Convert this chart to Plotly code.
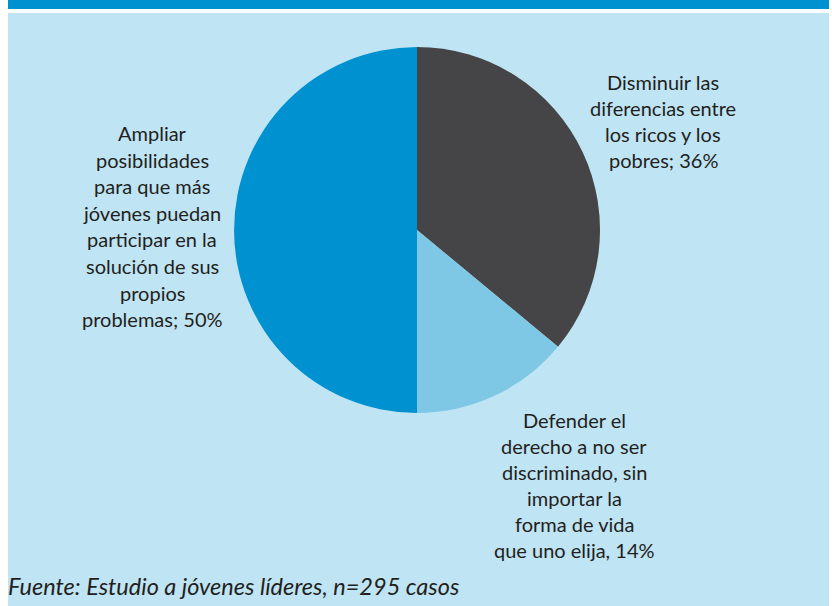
import plotly.graph_objects as go

# ---- data ----
categories = [
    "Disminuir las diferencias entre los ricos y los pobres",
    "Defender el derecho a no ser discriminado, sin importar la forma de vida que uno elija",
    "Ampliar posibilidades para que más jóvenes puedan participar en la solución de sus propios problemas",
]
values = [36, 14, 50]
label_lines = [
    ["Disminuir las", "diferencias entre", "los ricos y los", "pobres; 36%"],
    ["Defender el", "derecho a no ser", "discriminado, sin", "importar la", "forma de vida", "que uno elija, 14%"],
    ["Ampliar", "posibilidades", "para que más", "jóvenes puedan", "participar en la",
     "solución de sus", "propios", "problemas; 50%"],
]
colors = ["#454547", "#7EC8E6", "#0091D0"]
source_text = "Fuente: Estudio a jóvenes líderes, n=295 casos"

# ---- layout ----
W, H = 832, 606
BG = "#BFE4F4"
FONT = "Lato"
TXT = "#231F20"

def px(x):
    return x / W

def py(y):
    return 1 - y / H

cx, cy, r = 417, 230, 183

fig = go.Figure(go.Pie(
    labels=categories,
    values=values,
    sort=False,
    direction="clockwise",
    rotation=0,
    marker=dict(colors=colors, line=dict(width=0)),
    textinfo="none",
    hoverinfo="label+percent",
    showlegend=False,
    domain=dict(x=[px(cx - r), px(cx + r)], y=[py(cy + r), py(cy - r)]),
))

# label blocks: (center x, first line y, spacing)
label_pos = [(663, 82, 26), (574, 420, 26), (152, 133, 26.6)]

annotations = []
for lines, (lx, ly, sp) in zip(label_lines, label_pos):
    for i, t in enumerate(lines):
        annotations.append(dict(
            text=t, x=px(lx), y=py(ly + i * sp), xref="paper", yref="paper",
            xanchor="center", yanchor="middle", showarrow=False,
            font=dict(family=FONT, size=20, color=TXT),
        ))
annotations.append(dict(
    text="<i>" + source_text + "</i>", x=px(6), y=py(586), xref="paper", yref="paper",
    xanchor="left", yanchor="middle", showarrow=False,
    font=dict(family=FONT, size=23.5, color=TXT),
))

shapes = [
    dict(type="rect", xref="paper", yref="paper", x0=px(8), x1=px(829), y0=py(606), y1=py(13),
         fillcolor=BG, line=dict(width=0), layer="below"),
    dict(type="rect", xref="paper", yref="paper", x0=px(8), x1=px(829), y0=py(9), y1=py(0),
         fillcolor="#0091D0", line=dict(width=0), layer="below"),
]

fig.update_layout(
    width=W, height=H,
    margin=dict(l=0, r=0, t=0, b=0),
    paper_bgcolor="white",
    plot_bgcolor="white",
    shapes=shapes,
    annotations=annotations,
)

fig.write_html("out.html", config={"displayModeBar": False},
               post_script="document.body.style.margin='0';")
